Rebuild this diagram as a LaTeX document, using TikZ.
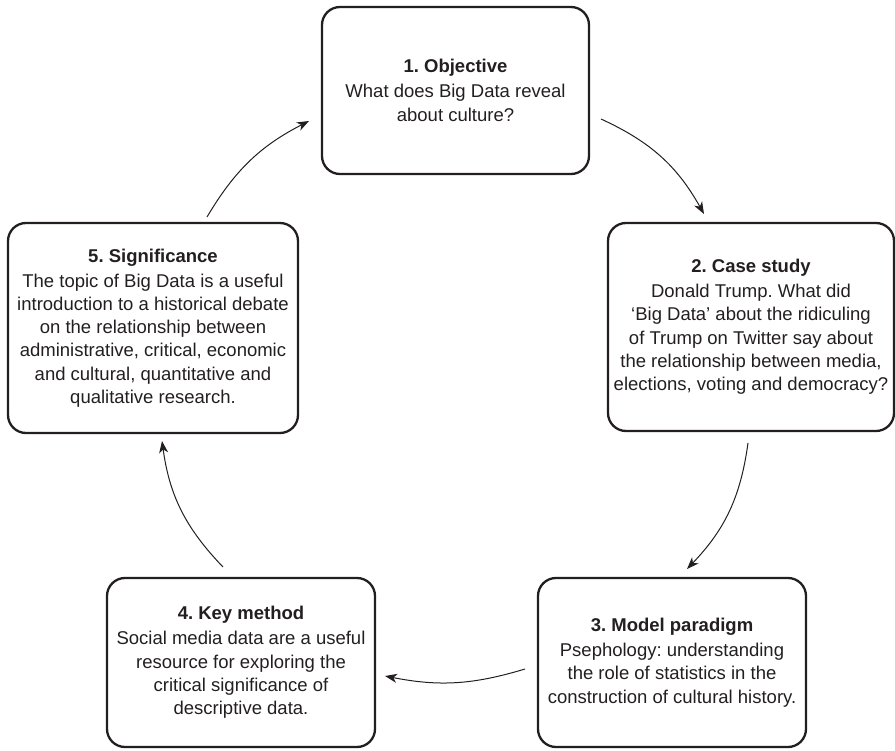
\documentclass[tikz,border=0pt]{standalone}
\usepackage{fontspec}
\setmainfont{Liberation Sans}
\usetikzlibrary{arrows.meta}
\definecolor{ink}{HTML}{231F20}
\frenchspacing
\begin{document}
\begin{tikzpicture}[x=1pt,y=-1pt,
  box/.style={draw=ink, line width=2.3pt, rounded corners=18pt, inner sep=0pt,
    align=center, text=ink, font=\fontsize{18.5}{23.3}\selectfont},
  flow/.style={draw=ink, line width=1pt, -{Stealth[length=12pt,width=9pt,inset=3.5pt]}}]
\useasboundingbox (0,0) rectangle (895,751);

\node[box, minimum width=267pt, minimum height=167pt] (b1) at (455.5,90.5)
  {\textbf{1. Objective}\\[1.7pt]What does Big Data reveal\\about culture?};
\node[box, minimum width=286pt, minimum height=208pt] (b2) at (751,327)
  {\textbf{2. Case study}\\[1.7pt]Donald Trump. What did\\`Big Data' about the ridiculing\\of Trump on Twitter say about\\the relationship between media,\\elections, voting and democracy?};
\node[box, minimum width=268pt, minimum height=169pt] (b3) at (672,662.5)
  {\textbf{3. Model paradigm}\\[1.7pt]Psephology: understanding\\the role of statistics in the\\construction of cultural history.};
\node[box, minimum width=268pt, minimum height=169pt] (b4) at (241,662.5)
  {\textbf{4. Key method}\\[1.7pt]Social media data are a useful\\resource for exploring the\\critical significance of\\descriptive data.};
\node[box, minimum width=290pt, minimum height=210pt] (b5) at (153,328)
  {\textbf{5. Significance}\\[1.7pt]The topic of Big Data is a useful\\introduction to a historical debate\\on the relationship between\\administrative, critical, economic\\and cultural, quantitative and\\qualitative research.};

\coordinate (s12) at (601,119);  \coordinate (e12) at (704,214);
\coordinate (s23) at (748,443);  \coordinate (e23) at (687,569);
\coordinate (s34) at (525,669);  \coordinate (e34) at (385,676);
\coordinate (s45) at (223,567);  \coordinate (e45) at (162,441);
\coordinate (s51) at (207,217);  \coordinate (e51) at (309,121);

\draw[flow] (s12) to[bend left=18] (e12);
\draw[flow] (s23) to[bend left=18] (e23);
\draw[flow] (s34) to[bend left=14] (e34);
\draw[flow] (s45) to[bend left=18] (e45);
\draw[flow] (s51) to[bend left=16] (e51);
\end{tikzpicture}
\end{document}
